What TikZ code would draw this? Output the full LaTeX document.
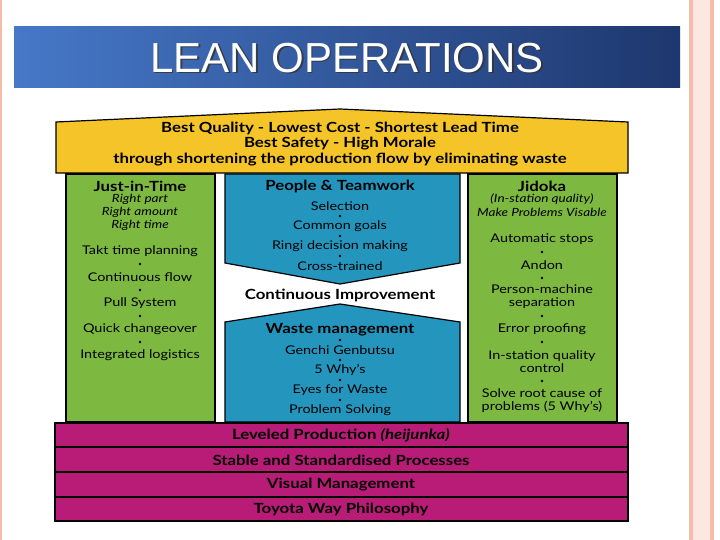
\documentclass[tikz,border=0pt]{standalone}
\usepackage{fontspec}
\setmainfont{Lato}[FakeStretch=1.2]
\newfontfamily\titlefont{Liberation Sans}
\definecolor{roofy}{RGB}{245,196,40}
\definecolor{colg}{RGB}{125,184,64}
\definecolor{colb}{RGB}{36,150,190}
\definecolor{basem}{RGB}{184,28,118}
\definecolor{tbl}{RGB}{70,120,200}
\definecolor{tbr}{RGB}{30,55,110}
\definecolor{pinkl}{RGB}{245,190,170}
\definecolor{pinkf}{RGB}{252,232,224}
\begin{document}
\begin{tikzpicture}[x=1pt,y=-1pt,
  t/.style={font=\fontsize{12}{13}\selectfont, inner sep=0pt, align=center},
  tb/.style={t, font=\fontsize{14}{15}\selectfont\bfseries},
  ti/.style={t, font=\fontsize{11.3}{13}\selectfont\itshape},
  dotn/.style={circle, fill=black, inner sep=0pt, minimum size=2.6pt},
  blk/.style={draw=black, line width=1.2pt}]
\useasboundingbox (0,0) rectangle (720,540);
\fill[white] (0,0) rectangle (720,540);
% slide decoration
\fill[pinkf] (690,0) rectangle (714,540);
\fill[pinkl] (689,0) rectangle (693,540);
\fill[pinkl] (710,0) rectangle (714,540);
\fill[pinkl] (0,0) rectangle (2,540);
% title bar
\shade[left color=tbl, right color=tbr] (14,27) rectangle (680,88);
\node[font=\titlefont\fontsize{42}{44}\selectfont, text=black!80, opacity=0.8] (titsh) at (348.5,59.5) {LEAN OPERATIONS};
\node[font=\titlefont\fontsize{42}{44}\selectfont, text=white] (tit) at (347,58) {LEAN OPERATIONS};
% roof
\filldraw[fill=roofy, blk] (56,122) -- (340,109) -- (628,122) -- (628,173) -- (56,173) -- cycle;
\node[tb] (r1) at (340,128) {Best Quality - Lowest Cost - Shortest Lead Time};
\node[tb] (r2) at (340,144) {Best Safety - High Morale};
\node[tb] (r3) at (340,160) {through shortening the production flow by eliminating waste};
% columns
\filldraw[fill=colg, blk] (66,174) rectangle (215,422);
\filldraw[fill=colg, blk] (468,174) rectangle (617,422);
\filldraw[fill=colb, blk] (225,174) -- (460,174) -- (460,263) -- (340,284) -- (225,263) -- cycle;
\filldraw[fill=colb, blk] (225,322) -- (340,304) -- (460,322) -- (460,422) -- (225,422) -- cycle;
% left column
\node[tb] (l0) at (140,186) {Just-in-Time};
\node[ti] (l1) at (140,199) {Right part};
\node[ti] (l2) at (140,212) {Right amount};
\node[ti] (l3) at (140,225) {Right time};
\node[t] (l4) at (140,251) {Takt time planning};
\node[dotn] (ld1) at (140,264) {};
\node[t] (l5) at (140,277) {Continuous flow};
\node[dotn] (ld2) at (140,290) {};
\node[t] (l6) at (140,303) {Pull System};
\node[dotn] (ld3) at (140,316) {};
\node[t] (l7) at (140,329) {Quick changeover};
\node[dotn] (ld4) at (140,342) {};
\node[t] (l8) at (140,355) {Integrated logistics};
% middle
\node[tb] (m0) at (340,186) {People \& Teamwork};
\node[t] (m1) at (340,206) {Selection};
\node[dotn] (md1) at (340,216) {};
\node[t] (m2) at (340,226) {Common goals};
\node[dotn] (md2) at (340,236) {};
\node[t] (m3) at (340,246) {Ringi decision making};
\node[dotn] (md3) at (340,256) {};
\node[t] (m4) at (340,266) {Cross-trained};
\node[tb] (ci) at (340,295) {Continuous Improvement};
\node[tb] (w0) at (340,330) {Waste management};
\node[dotn] (wd0) at (340,340) {};
\node[t] (w1) at (340,350) {Genchi Genbutsu};
\node[dotn] (wd1) at (340,360) {};
\node[t] (w2) at (340,370) {5 Why's};
\node[dotn] (wd2) at (340,380) {};
\node[t] (w3) at (340,390) {Eyes for Waste};
\node[dotn] (wd3) at (340,400) {};
\node[t] (w4) at (340,410) {Problem Solving};
% right column
\node[tb] (j0) at (542,186) {Jidoka};
\node[ti] (j1) at (542,199) {(In-station quality)};
\node[ti] (j2) at (542,212) {Make Problems Visable};
\node[t] (j3) at (542,239) {Automatic stops};
\node[dotn] (jd1) at (542,252) {};
\node[t] (j4) at (542,265) {Andon};
\node[dotn] (jd2) at (542,278) {};
\node[t] (j5) at (542,296.5) {Person-machine\\separation};
\node[dotn] (jd3) at (542,316) {};
\node[t] (j6) at (542,329) {Error proofing};
\node[dotn] (jd4) at (542,342) {};
\node[t] (j7) at (542,361.5) {In-station quality\\control};
\node[dotn] (jd5) at (542,381) {};
\node[t] (j8) at (542,400.5) {Solve root cause of\\problems (5 Why's)};
% base
\filldraw[fill=basem, blk] (55,423) rectangle (628,447);
\filldraw[fill=basem, blk] (55,447) rectangle (628,472);
\filldraw[fill=basem, blk] (55,472) rectangle (628,497);
\filldraw[fill=basem, blk] (55,497) rectangle (628,521);
\node[tb] (b1) at (341,435) {Leveled Production \textit{(heijunka)}};
\node[tb] (b2) at (341,460) {Stable and Standardised Processes};
\node[tb] (b3) at (341,484.5) {Visual Management};
\node[tb] (b4) at (341,509) {Toyota Way Philosophy};
\end{tikzpicture}
\end{document}
